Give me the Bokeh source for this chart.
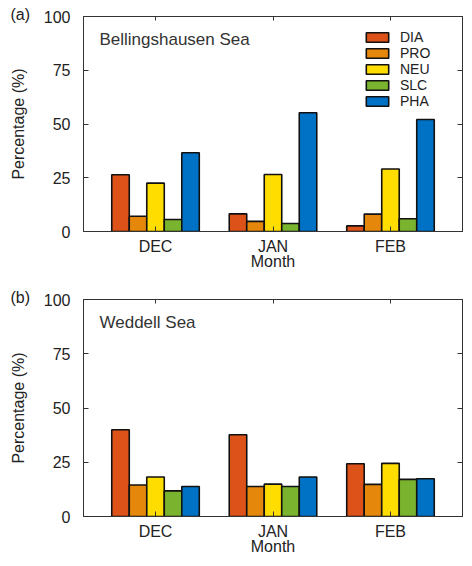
from bokeh.plotting import figure
from bokeh.models import (FactorRange, Range1d, FixedTicker, LinearAxis, CategoricalAxis,
                          Label, Legend, LegendItem, ColumnDataSource)
from bokeh.transform import dodge
from bokeh.layouts import column
from bokeh.embed import file_html
from bokeh.resources import INLINE

months = ["DEC", "JAN", "FEB"]
groups = ["DIA", "PRO", "NEU", "SLC", "PHA"]
colors = ["#DD5218", "#E5870A", "#FFDD00", "#7AB32E", "#0072C6"]
y_ticks = [0, 25, 50, 75, 100]

bell_DIA = [26.4, 8.2, 2.6]
bell_PRO = [7.1, 4.7, 8.1]
bell_NEU = [22.5, 26.5, 29.1]
bell_SLC = [5.6, 3.7, 5.9]
bell_PHA = [36.6, 55.2, 52.1]

wed_DIA = [40.0, 37.7, 24.3]
wed_PRO = [14.5, 13.8, 14.8]
wed_NEU = [18.2, 14.9, 24.5]
wed_SLC = [11.8, 13.8, 17.1]
wed_PHA = [13.8, 18.2, 17.4]

FONT = "Liberation Sans"
FS = "16px"
BAR_W = 0.149
FRAME = "#333333"


def make_panel(tag, region, series, height, top, bottom, legend):
    data = dict(month=months)
    for g, vals in zip(groups, series):
        data[g] = vals
    src = ColumnDataSource(data)
    xr = FactorRange(factors=months, range_padding=0.113, range_padding_units="absolute")
    p = figure(x_range=xr, y_range=Range1d(0, 100), width=464, height=height,
               output_backend="svg", toolbar_location=None,
               min_border_left=83, min_border_right=2,
               min_border_top=top, min_border_bottom=bottom)
    p.outline_line_color = FRAME
    p.outline_line_width = 1
    p.grid.visible = False
    p.background_fill_color = "white"
    p.border_fill_color = "white"

    # panel tag "(a)" / "(b)" as a left-aligned title shifted over the axis area
    p.title.text = tag
    p.title.align = "left"
    p.title.offset = -73
    p.title.standoff = -12
    p.title.text_font = FONT
    p.title.text_font_size = FS
    p.title.text_font_style = "normal"
    p.title.text_color = "#222222"

    items = []
    for i, (g, c) in enumerate(zip(groups, colors)):
        r = p.vbar(x=dodge("month", (i - 2) * BAR_W, range=xr), top=g, width=BAR_W,
                   source=src, fill_color=c, line_color="#111111", line_width=1.6)
        items.append(LegendItem(label=g, renderers=[r]))

    p.xaxis.axis_label = "Month"
    p.yaxis.axis_label = "Percentage (%)"
    for ax in [p.xaxis[0], p.yaxis[0]]:
        ax.axis_line_color = FRAME
        ax.major_tick_in = 5
        ax.major_tick_out = 0
        ax.minor_tick_line_color = None
        ax.major_tick_line_color = FRAME
        ax.major_label_text_font = FONT
        ax.major_label_text_font_size = FS
        ax.major_label_text_color = "#222222"
        ax.axis_label_text_font = FONT
        ax.axis_label_text_font_size = FS
        ax.axis_label_text_font_style = "normal"
        ax.axis_label_text_color = "#222222"
    p.yaxis.ticker = FixedTicker(ticks=y_ticks)
    p.yaxis.major_label_standoff = 13
    p.yaxis.axis_label_standoff = 14
    p.xaxis.major_label_standoff = 6
    p.xaxis.axis_label_standoff = -5

    top_ax = CategoricalAxis(major_label_text_color=None, major_label_text_font_size="1px",
                             axis_line_color=FRAME, major_tick_in=4, major_tick_out=0,
                             major_tick_line_color=FRAME, major_label_standoff=0)
    p.add_layout(top_ax, "above")
    right_ax = LinearAxis(ticker=FixedTicker(ticks=y_ticks), major_label_text_color=None,
                          axis_line_color=FRAME, major_tick_in=5, major_tick_out=0,
                          minor_tick_line_color=None, major_tick_line_color=FRAME,
                          major_label_standoff=0)
    p.add_layout(right_ax, "right")

    p.add_layout(Label(x=0.023, y=89.5, text=region, text_font=FONT, text_font_size="17px",
                       text_baseline="middle", text_color="#333333"))

    if legend:
        lg = Legend(items=items, location=(280, 122), orientation="vertical",
                    glyph_width=28, glyph_height=12, label_height=12, spacing=0,
                    padding=0, margin=0, label_standoff=9,
                    label_text_font=FONT, label_text_font_size="14px",
                    label_text_color="#222222", border_line_color=None,
                    background_fill_alpha=0)
        p.add_layout(lg)
    return p


p1 = make_panel("(a)", "Bellingshausen Sea",
                [bell_DIA, bell_PRO, bell_NEU, bell_SLC, bell_PHA], 283, 16, 52, True)
p2 = make_panel("(b)", "Weddell Sea",
                [wed_DIA, wed_PRO, wed_NEU, wed_SLC, wed_PHA], 283, 16, 50, False)

layout = column(p1, p2, spacing=0)
open("out.html", "w").write(file_html(layout, INLINE))
